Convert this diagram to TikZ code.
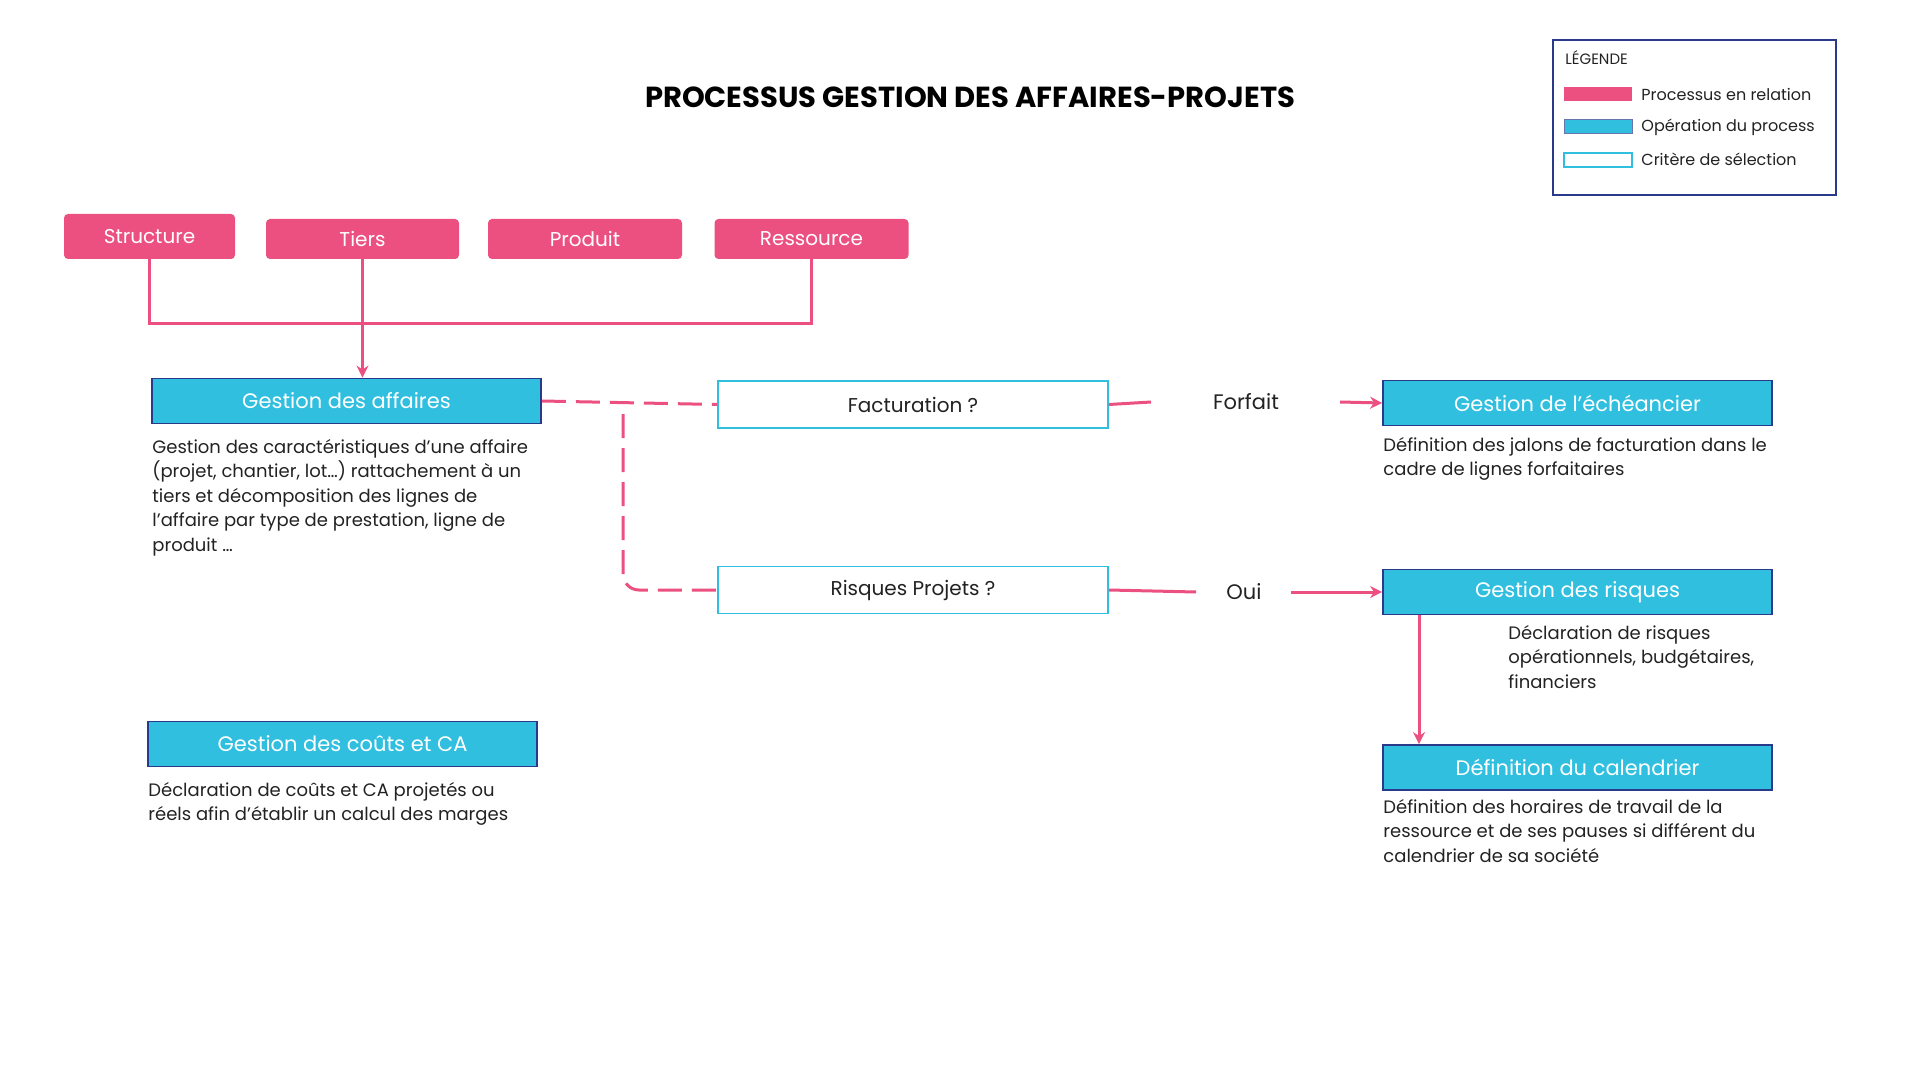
\documentclass[tikz,border=0pt]{standalone}
\usepackage{fontspec}
\setmainfont{Poppins}
\usetikzlibrary{arrows.meta}
\definecolor{pk}{HTML}{EC5080}
\definecolor{cy}{HTML}{31BFE0}
\definecolor{nv}{HTML}{2A3A8A}
\definecolor{tx}{HTML}{222222}
\begin{document}
\begin{tikzpicture}[x=0.5pt,y=-0.5pt,
 pinkbox/.style={fill=pk,rounded corners=2pt,text=white,font=\fontsize{10}{12}\selectfont,inner sep=0pt},
 opbox/.style={fill=cy,draw=nv,line width=0.9pt,text=white,font=\fontsize{10.5}{12}\selectfont,minimum width=194.5pt,minimum height=22.5pt,inner sep=0pt},
 critbox/.style={fill=white,draw=cy,line width=0.9pt,text=tx,font=\fontsize{10}{12}\selectfont,minimum width=195pt,minimum height=23.5pt,inner sep=0pt},
 desc/.style={anchor=north west,align=left,text=tx,font=\fontsize{9}{12.2}\selectfont,inner sep=0pt},
 lbl/.style={text=tx,font=\fontsize{10.5}{12}\selectfont},
 pl/.style={draw=pk,line width=1.5pt},
 arr/.style={pl,-{Stealth[length=6pt,width=6pt]}}]
\useasboundingbox (0,0) rectangle (1920,1080);
\node[font=\fontsize{14.5}{16}\bfseries\selectfont] (title) at (970,97) {PROCESSUS GESTION DES AFFAIRES-PROJETS};
% legend
\draw[nv,line width=1pt] (1553,40) rectangle (1836,195);
\node[anchor=west,text=tx,font=\fontsize{7.5}{9}\selectfont,inner sep=0pt] (lg) at (1565,58) {LÉGENDE};
\node[fill=pk,minimum width=34pt,minimum height=7pt,inner sep=0pt] (s1) at (1598,94) {};
\node[fill=cy,draw=nv!70,line width=0.5pt,minimum width=34pt,minimum height=7pt,inner sep=0pt] (s2) at (1598,127) {};
\node[draw=cy,line width=0.9pt,minimum width=34pt,minimum height=7pt,inner sep=0pt] (s3) at (1598,160) {};
\foreach \n/\y/\t in {l1/94/Processus en relation,l2/127/Opération du process,l3/159/Critère de sélection}
 \node[anchor=west,text=tx,font=\fontsize{8}{9}\selectfont,inner sep=0pt] (\n) at (1641,\y) {\t};
% pink boxes
\node[pinkbox,minimum width=85.5pt,minimum height=22.5pt] (st) at (149.5,236.5) {Structure};
\node[pinkbox,minimum width=96.5pt,minimum height=20pt] (ti) at (362.5,239) {Tiers};
\node[pinkbox,minimum width=97pt,minimum height=20pt] (pr) at (585,239) {Produit};
\node[pinkbox,minimum width=97pt,minimum height=20pt] (re) at (811.5,239) {Ressource};
% op boxes
\node[opbox] (ga) at (346.5,401) {Gestion des affaires};
\node[opbox] (ge) at (1577.5,403) {Gestion de l’échéancier};
\node[opbox] (gr) at (1577.5,592) {Gestion des risques};
\node[opbox] (dc) at (1577.5,767.5) {Définition du calendrier};
\node[opbox] (gc) at (342.5,744) {Gestion des coûts et CA};
\node[critbox] (fa) at (913,404.5) {Facturation ?};
\node[critbox] (rp) at (913,590) {Risques Projets ?};
\node[lbl] (fo) at (1246,402) {Forfait};
\node[lbl] (ou) at (1244,592) {Oui};
% descriptions
\node[desc] (d1) at (152,439) {Gestion des caractéristiques d’une affaire\\(projet, chantier, lot…) rattachement à un\\tiers et décomposition des lignes de\\l’affaire par type de prestation, ligne de\\produit …};
\node[desc] (d2) at (1383,437) {Définition des jalons de facturation dans le\\cadre de lignes forfaitaires};
\node[desc] (d3) at (1508,625) {Déclaration de risques\\opérationnels, budgétaires,\\financiers};
\node[desc] (d4) at (1383,799) {Définition des horaires de travail de la\\ressource et de ses pauses si différent du\\calendrier de sa société};
\node[desc] (d5) at (148,782) {Déclaration de coûts et CA projetés ou\\réels afin d’établir un calcul des marges};
% connectors
\coordinate (ra) at (1419,618);
\coordinate (rb) at (1419,738);
\draw[pl] (st.south) -- (149.5,324) -- (811.5,324) -- (re.south);
\draw[arr] (ti.south) -- (ga.north -| ti.south);
\draw[pl,dash pattern=on 12pt off 5pt] (ga.east) -- (fa.west);
\draw[pl,dash pattern=on 12pt off 5pt,rounded corners=8pt] (623,414) -- (623,590) -- (rp.west);
\draw[pl] (fa.east) -- (1151,402);
\draw[arr] (1340,402) -- (ge.west);
\draw[pl] (rp.east) -- (1196,592);
\draw[arr] (1291,592) -- (gr.west);
\draw[arr] (gr.south -| ra) -- (dc.north -| rb);
\end{tikzpicture}
\end{document}
